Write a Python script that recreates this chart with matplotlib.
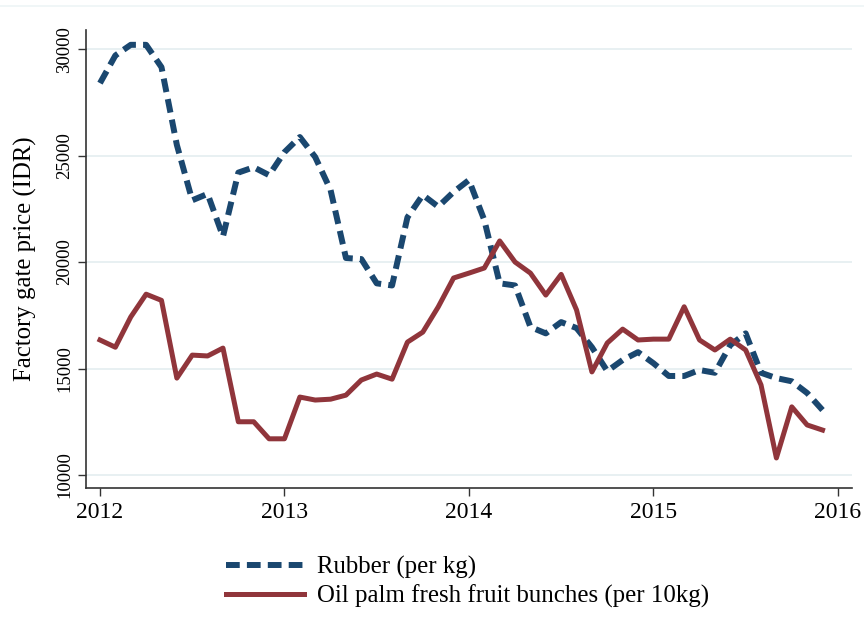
import numpy as np
import matplotlib
matplotlib.use("Agg")
import matplotlib.pyplot as plt
from matplotlib.lines import Line2D

plt.rcParams['font.family'] = ['Liberation Serif', 'DejaVu Serif']

# monthly, Jan 2012 .. Dec 2015
rubber = [28400, 29700, 30200, 30200, 29150, 25500, 22900, 23200, 21200, 24200,
          24450, 24080, 25160, 25870, 24930, 23380, 20190, 20140, 19000, 18900,
          22100, 23150, 22600, 23290, 23850, 21970, 19000, 18900, 16950, 16650,
          17180, 16900, 16000, 14880, 15400, 15770, 15250, 14650, 14650, 14930,
          14800, 16100, 16650, 14800, 14550, 14400, 13850, 13050]
oil_palm = [16340, 16000, 17420, 18490, 18200, 14550, 15630, 15590, 15960, 12500,
            12500, 11700, 11700, 13660, 13520, 13560, 13750, 14460, 14740, 14500,
            16240, 16710, 17890, 19250, 19480, 19720, 20990, 20000, 19480, 18450,
            19420, 17750, 14840, 16200, 16850, 16340, 16380, 16380, 17900, 16340,
            15870, 16380, 15870, 14230, 10800, 13200, 12350, 12110]
x_ticks = [2012, 2013, 2014, 2015, 2016]
y_ticks = [10000, 15000, 20000, 25000, 30000]
labels = ["Rubber (per kg)", "Oil palm fresh fruit bunches (per 10kg)"]

months = 2012 + np.arange(len(rubber)) / 12

fig = plt.figure(figsize=(8.64, 6.41), dpi=100)
ax = fig.add_axes([0.0995, 0.2387, 0.8865, 0.7143])

ax.plot(months, rubber, color='#1a476f', lw=4.3, dashes=(2.3, 1.2),
        dash_capstyle='butt', label=labels[0])
ax.plot(months, oil_palm, color='#90353b', lw=3.6, label=labels[1])

ax.set_xlim(2011.924, 2016.076)
ax.set_ylim(9390, 30890)
ax.set_xticks(x_ticks)
ax.set_yticks(y_ticks)
ax.tick_params(axis='x', labelsize=17, length=6, width=1, color='#333333', pad=4)
ax.tick_params(axis='y', labelsize=13.5, length=6, width=1, color='#333333', pad=3)
for lab in ax.get_yticklabels():
    lab.set_rotation(90)
    lab.set_va('center')
ax.set_ylabel("Factory gate price (IDR)", fontsize=17.8, labelpad=14)

ax.grid(axis='y', color='#e6eff1', lw=1.3)
ax.set_axisbelow(True)
for s in ['top', 'right']:
    ax.spines[s].set_visible(False)
for s in ['left', 'bottom']:
    ax.spines[s].set_color('#333333')
    ax.spines[s].set_linewidth(1.2)

fig.legend(loc='upper left', bbox_to_anchor=(0.25, 0.148), frameon=False,
           fontsize=17.9, handlelength=3.15, handletextpad=0.5,
           labelspacing=0.22, borderaxespad=0)

# faint border line at the top of the graph region
fig.add_artist(Line2D([0, 1], [0.991, 0.991], color='#eef5f6', lw=1.2))

fig.savefig("out.png", dpi=100)
